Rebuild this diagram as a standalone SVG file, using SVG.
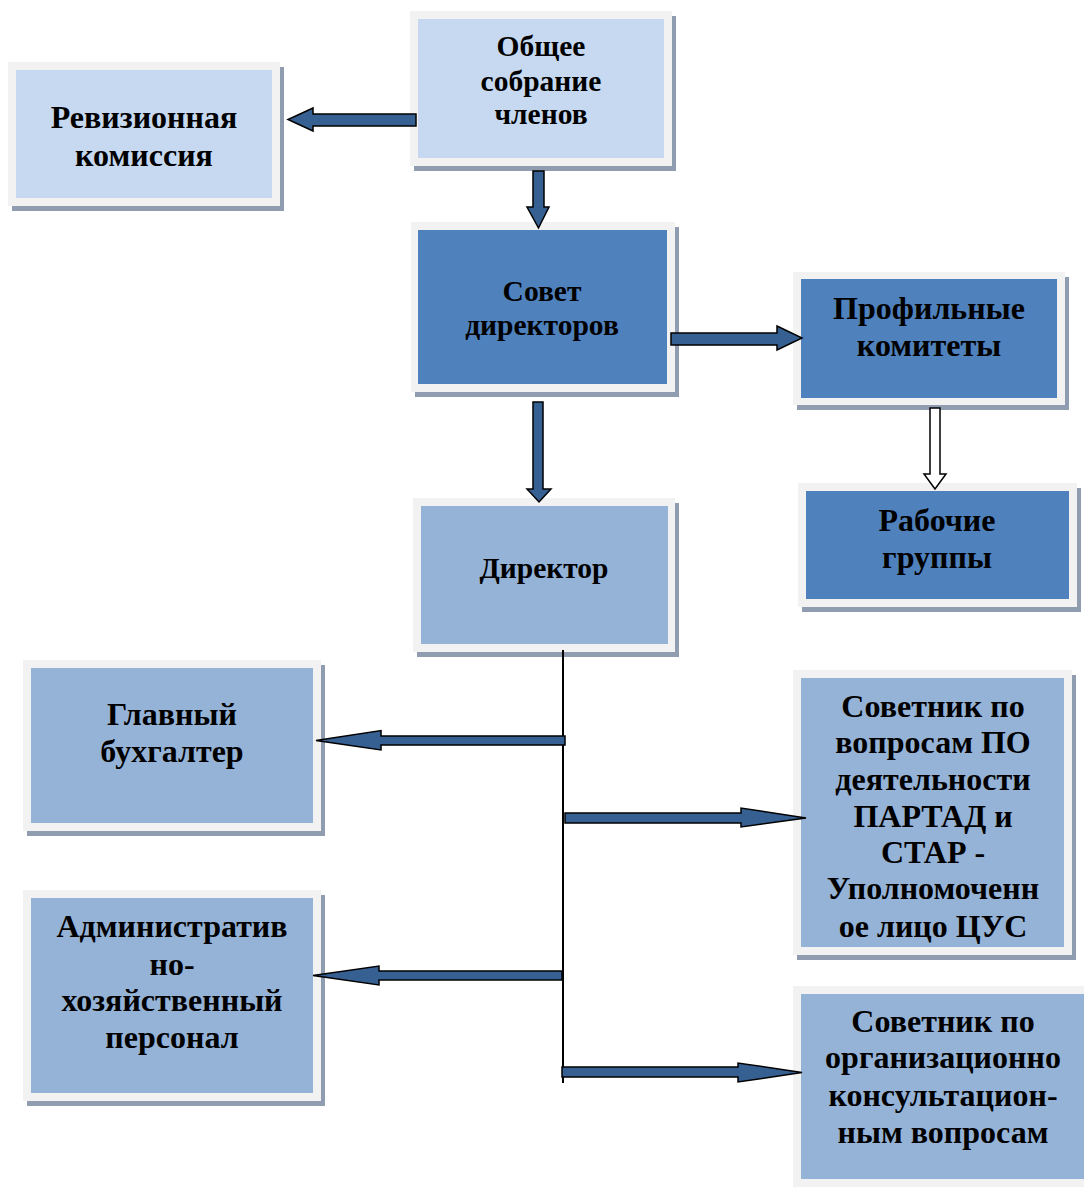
<svg xmlns="http://www.w3.org/2000/svg" width="1084" height="1187" viewBox="0 0 1084 1187">
<style>
.sh{fill:#909db1}
.fr{fill:#f2f2f2}
.c1{fill:#c6d9f1}
.c2{fill:#4f81bd}
.c3{fill:#95b3d7}
text{font-family:"Liberation Serif","Times New Roman",serif;font-weight:bold;font-size:32px;fill:#000;text-anchor:middle}
.s{font-size:29.5px}
.ar{fill:#376092;stroke:#000;stroke-width:1.5;stroke-linejoin:miter}
.ah{fill:#fff;stroke:#000;stroke-width:1.5}
.ln{stroke:#000;stroke-width:2;fill:none}
</style>
<rect width="1084" height="1187" fill="#fff"/>
<g id="n-obshchee">
<rect class="sh" x="414" y="16" width="262" height="155"/>
<rect class="fr" x="410" y="11" width="262" height="155"/>
<rect class="c1" x="418" y="19" width="246" height="139"/>
<text class="s" x="541" y="56">Общее</text>
<text class="s" x="541" y="91">собрание</text>
<text class="s" x="541" y="124">членов</text>
</g>
<g id="n-revizion">
<rect class="sh" x="12" y="67" width="272" height="144"/>
<rect class="fr" x="8" y="62" width="272" height="144"/>
<rect class="c1" x="16" y="70" width="256" height="128"/>
<text x="144" y="128">Ревизионная</text>
<text x="144" y="166">комиссия</text>
</g>
<g id="n-sovet">
<rect class="sh" x="415" y="227" width="264" height="170"/>
<rect class="fr" x="411" y="222" width="264" height="170"/>
<rect class="c2" x="418" y="230" width="249" height="154"/>
<text class="s" x="542" y="301">Совет</text>
<text class="s" x="542" y="335">директоров</text>
</g>
<g id="n-profil">
<rect class="sh" x="797" y="277" width="272" height="133"/>
<rect class="fr" x="793" y="272" width="272" height="133"/>
<rect class="c2" x="801" y="279" width="256" height="119"/>
<text x="929" y="319">Профильные</text>
<text x="929" y="356">комитеты</text>
</g>
<g id="n-rabochie">
<rect class="sh" x="802" y="488" width="279" height="124"/>
<rect class="fr" x="798" y="483" width="279" height="124"/>
<rect class="c2" x="806" y="491" width="263" height="108"/>
<text x="937" y="531">Рабочие</text>
<text x="937" y="568">группы</text>
</g>
<g id="n-direktor">
<rect class="sh" x="417" y="503" width="262" height="154"/>
<rect class="fr" x="413" y="498" width="262" height="154"/>
<rect class="c3" x="421" y="506" width="247" height="138"/>
<text class="s" x="544" y="578">Директор</text>
</g>
<g id="n-glavbuh">
<rect class="sh" x="27" y="665" width="298" height="171"/>
<rect class="fr" x="23" y="660" width="298" height="171"/>
<rect class="c3" x="31" y="668" width="282" height="155"/>
<text x="172" y="725">Главный</text>
<text x="172" y="762">бухгалтер</text>
</g>
<g id="n-sovetnik-po">
<rect class="sh" x="797" y="675" width="279" height="285"/>
<rect class="fr" x="793" y="670" width="279" height="285"/>
<rect class="c3" x="801" y="678" width="263" height="269"/>
<text x="933" y="717">Советник по</text>
<text x="933" y="753">вопросам ПО</text>
<text x="933" y="790">деятельности</text>
<text x="933" y="827">ПАРТАД и</text>
<text x="933" y="863">СТАР -</text>
<text x="933" y="899">Уполномоченн</text>
<text x="933" y="937">ое лицо ЦУС</text>
</g>
<g id="n-adm">
<rect class="sh" x="27" y="895" width="298" height="211"/>
<rect class="fr" x="23" y="890" width="298" height="211"/>
<rect class="c3" x="31" y="898" width="282" height="195"/>
<text x="172" y="937">Административ</text>
<text x="172" y="975">но-</text>
<text x="172" y="1011">хозяйственный</text>
<text x="172" y="1048">персонал</text>
</g>
<g id="n-sovetnik-org">
<rect class="fr" x="793" y="986" width="300" height="210"/>
<rect class="c3" x="801" y="994" width="290" height="185"/>
<text x="943" y="1032">Советник по</text>
<text x="943" y="1068">организационно</text>
<text x="943" y="1106">консультацион-</text>
<text x="943" y="1143">ным вопросам</text>
</g>
<g id="connectors">
<path class="ar" d="M416,114 H313 V108 L288,119.5 L313,131 V126 H416 Z"/>
<path class="ar" d="M533,171 V207 H527 L538.5,228 L549,207 H544 V171 Z"/>
<path class="ar" d="M533,402 V489 H527 L539,502 L551,489 H543 V402 Z"/>
<path class="ar" d="M671,333 H777 V326 L802,338 L777,350 V345 H671 Z"/>
<path class="ah" d="M930,408 V474 H924 L935,489 L946,474 H940 V408 Z"/>
<line class="ln" x1="563" y1="650" x2="563" y2="1083"/>
<path class="ar" d="M565,736 H381 V730.5 L316,740.5 L381,750 V745 H565 Z"/>
<path class="ar" d="M565,813 H741 V808 L806,818 L741,827 V823 H565 Z"/>
<path class="ar" d="M562,971 H379 V966 L313,975.5 L379,985 V980 H562 Z"/>
<path class="ar" d="M562,1067 H738 V1063 L802,1072.5 L738,1082 V1077 H562 Z"/>
</g>
</svg>
